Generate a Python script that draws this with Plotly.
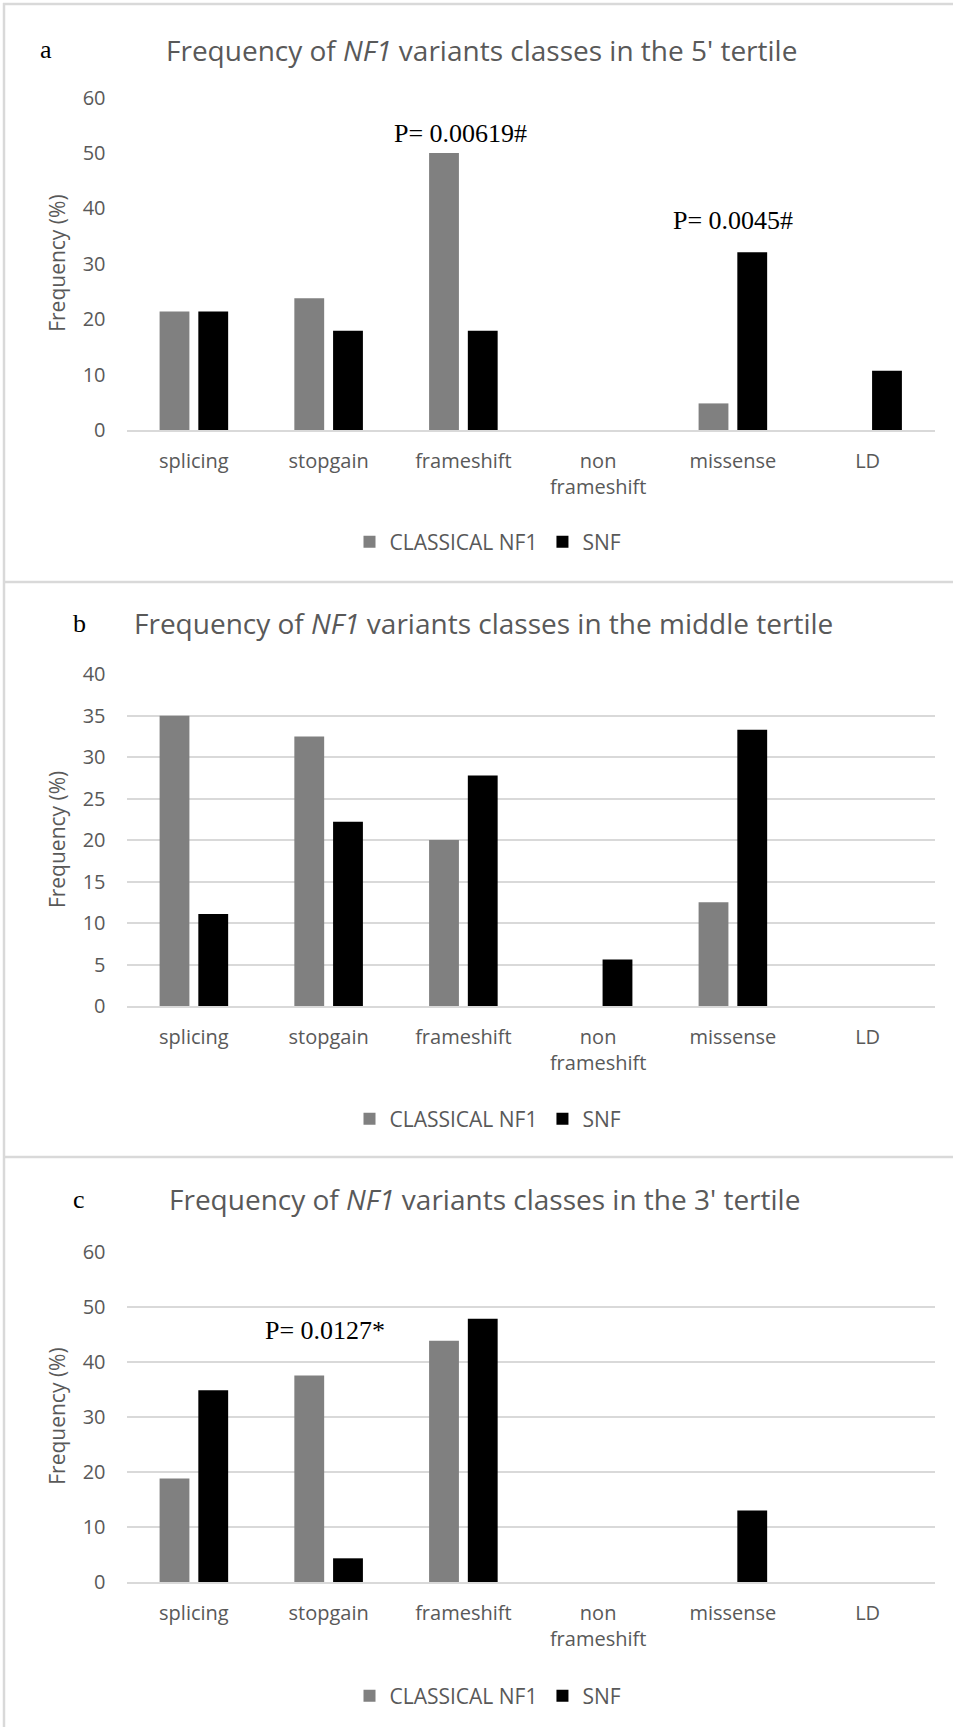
import plotly.graph_objects as go

# ---------------- data ----------------
categories = ["splicing", "stopgain", "frameshift", "non frameshift", "missense", "LD"]
tick_labels = ["splicing", "stopgain", "frameshift", "non<br>frameshift", "missense", "LD"]
series_names = ["CLASSICAL NF1", "SNF"]
series_colors = ["#808080", "#000000"]

classical_5p = [21.4, 23.8, 50.0, 0, 4.8, 0]
snf_5p = [21.4, 17.9, 17.9, 0, 32.1, 10.7]
classical_mid = [35.0, 32.5, 20.0, 0, 12.5, 0]
snf_mid = [11.1, 22.2, 27.8, 5.6, 33.3, 0]
classical_3p = [18.8, 37.5, 43.8, 0, 0, 0]
snf_3p = [34.8, 4.3, 47.8, 0, 13.0, 0]

panel_letters = ["a", "b", "c"]
panel_titles = [
    "Frequency of <i>NF1</i> variants classes in the 5' tertile",
    "Frequency of <i>NF1</i> variants classes in the middle tertile",
    "Frequency of <i>NF1</i> variants classes in the 3' tertile",
]
y_max = [60, 40, 60]
y_step = [10, 5, 10]
show_grid = [False, True, True]
y_title = "Frequency (%)"
p_labels = ["P= 0.00619#", "P= 0.0045#", "P= 0.0127*"]

# ---------------- layout geometry (pixels) ----------------
W, H = 953, 1727
def px(x):
    return x / W
def py(y):
    return 1 - y / H

plot_left, plot_right = 126.5, 935.0
panel_geo = [
    dict(top=97.6, bottom=430.0, title_y=50, letter_x=46, title_x=481.5, legend_y=542),
    dict(top=674.2, bottom=1006.0, title_y=623, letter_x=79, title_x=483.5, legend_y=1119),
    dict(top=1251.5, bottom=1582.0, title_y=1199, letter_x=79, title_x=484, legend_y=1696),
]
p_positions = [(0, 460, 134), (0, 733, 221), (2, 324.5, 1330)]

GRAY_TXT = "#595959"
GRID = "#d9d9d9"

fig = go.Figure()
data = [(classical_5p, snf_5p), (classical_mid, snf_mid), (classical_3p, snf_3p)]

layout = dict(
    width=W, height=H,
    margin=dict(l=0, r=0, t=0, b=0, autoexpand=False),
    paper_bgcolor="white", plot_bgcolor="white",
    barmode="group", bargap=0.425, bargroupgap=0.23,
    font=dict(family="Open Sans", color=GRAY_TXT),
    annotations=[], shapes=[],
)

for i in range(3):
    sfx = "" if i == 0 else str(i + 1)
    geo = panel_geo[i]
    for s in range(2):
        fig.add_trace(go.Bar(
            x=categories, y=data[i][s], name=series_names[s],
            marker=dict(color=series_colors[s], line=dict(width=0)),
            xaxis="x" + sfx, yaxis="y" + sfx,
            legend="legend" + sfx,
            showlegend=True,
        ))
    layout["xaxis" + sfx] = dict(
        domain=[px(plot_left), px(plot_right)], anchor="y" + sfx,
        type="category", categoryorder="array", categoryarray=categories,
        tickmode="array", tickvals=categories, ticktext=tick_labels,
        showline=True, linecolor=GRID, linewidth=2,
        showgrid=False, ticks="", ticklabelstandoff=12,
        tickfont=dict(size=20, color=GRAY_TXT, family="Open Sans"),
        fixedrange=True, automargin=False,
    )
    layout["yaxis" + sfx] = dict(
        domain=[py(geo["bottom"]), py(geo["top"])], anchor="x" + sfx,
        range=[0, y_max[i]], tick0=0, dtick=y_step[i],
        showgrid=show_grid[i], gridcolor=GRID, gridwidth=2,
        zeroline=False, showline=False, ticks="",
        ticklabelstandoff=20,
        tickfont=dict(size=20, color=GRAY_TXT, family="Open Sans"),
        fixedrange=True, automargin=False,
    )
    layout["legend" + sfx] = dict(
        orientation="h", x=px(488), xanchor="center",
        y=py(geo["legend_y"]), yanchor="middle",
        font=dict(size=21, color=GRAY_TXT, family="Open Sans"),
        bgcolor="rgba(0,0,0,0)", itemclick=False, itemdoubleclick=False,
    )
    # panel letter
    layout["annotations"].append(dict(
        text=panel_letters[i], x=px(geo["letter_x"]), y=py(geo["title_y"]),
        xref="paper", yref="paper", xanchor="center", yanchor="middle",
        showarrow=False, font=dict(family="Liberation Serif", size=26, color="black"),
    ))
    # title
    layout["annotations"].append(dict(
        text=panel_titles[i], x=px(geo["title_x"]), y=py(geo["title_y"]),
        xref="paper", yref="paper", xanchor="center", yanchor="middle",
        showarrow=False, font=dict(family="Open Sans", size=28, color=GRAY_TXT),
    ))
    # y axis title
    layout["annotations"].append(dict(
        text=y_title, x=px(57), y=py((geo["top"] + geo["bottom"]) / 2),
        xref="paper", yref="paper", xanchor="center", yanchor="middle",
        textangle=-90, showarrow=False,
        font=dict(family="Open Sans", size=21, color=GRAY_TXT),
    ))

# P-value annotations
for lbl, (pi, xx, yy) in zip(p_labels, p_positions):
    layout["annotations"].append(dict(
        text=lbl, x=px(xx), y=py(yy), xref="paper", yref="paper",
        xanchor="center", yanchor="middle", showarrow=False,
        font=dict(family="Liberation Serif", size=26, color="black"),
    ))

# white text box behind the panel-c P value (hides part of a gridline)
layout["shapes"].append(dict(
    type="rect", xref="paper", yref="paper",
    x0=px(243), x1=px(416), y0=py(1318), y1=py(1298),
    fillcolor="white", line=dict(width=0), layer="between",
))

# panel frames
for yy in [4, 582, 1157]:
    layout["shapes"].append(dict(
        type="line", xref="paper", yref="paper",
        x0=px(3), x1=1, y0=py(yy), y1=py(yy),
        line=dict(color=GRID, width=2.5),
    ))
layout["shapes"].append(dict(
    type="line", xref="paper", yref="paper",
    x0=px(4), x1=px(4), y0=0, y1=py(3),
    line=dict(color=GRID, width=2.5),
))

fig.update_layout(**layout)
fig.write_html(
    "out.html",
    config={"displayModeBar": False},
    post_script="document.body.style.margin='0px';document.body.style.overflow='hidden';",
)
